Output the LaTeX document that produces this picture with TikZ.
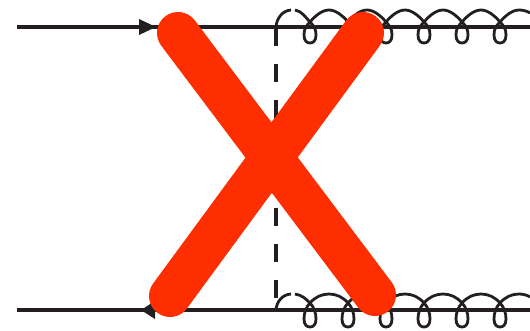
\documentclass[tikz,border=0pt]{standalone}
\definecolor{ink}{HTML}{231F20}
\definecolor{crossred}{HTML}{FF2E00}
\tikzset{
  fermion/.style={draw=ink,line width=3.3pt},
  tiphead/.style={fill=ink,draw=none},
  cutline/.style={draw=ink,line width=3.3pt,dash pattern=on 18pt off 18pt},
  gluon/.style={draw=ink,line width=2.8pt},
  crossbar/.style={draw=crossred,line width=42pt,line cap=round}
}
\newcommand{\gluonrow}[4]{% base y, peak y, crossing y, loop bottom y
  \draw[gluon] (276,#1) .. controls (276.5,{#1-8}) and (282,{#2+0.5}) .. (291,#2);
  \draw[gluon] (295,#2) .. controls (302,{#2+1}) and (306,{#3-4}) .. (310,#3)
    .. controls (314,{#3+4}) and (316,{#4-14}) .. (316,{#4-8})
    .. controls (316,{#4-2}) and (313,#4) .. (310,#4)
    .. controls (307,#4) and (304,{#4-2}) .. (304,{#4-8})
    .. controls (304,{#4-14}) and (306,{#3+4}) .. (310,#3);
  \foreach \c in {310,348,386,424,462}{
    \draw[gluon] (\c,#3) .. controls ({\c+5},{#3-6}) and ({\c+12},#2) .. ({\c+19},#2)
      .. controls ({\c+26},#2) and ({\c+33},{#3-6}) .. ({\c+38},#3)
      .. controls ({\c+42},{#3+4}) and ({\c+44},{#4-14}) .. ({\c+44},{#4-8})
      .. controls ({\c+44},{#4-2}) and ({\c+41},#4) .. ({\c+38},#4)
      .. controls ({\c+35},#4) and ({\c+32},{#4-2}) .. ({\c+32},{#4-8})
      .. controls ({\c+32},{#4-14}) and ({\c+34},{#3+4}) .. ({\c+38},#3);
  }
  \draw[gluon] (500,#3) .. controls (505,{#3-6}) and (512,#2) .. (519,#2)
      .. controls (523,#2) and (527,{#2+1}) .. (530,{#2+3});
}
\begin{document}
\begin{tikzpicture}[x=1pt,y=-1pt]
  \useasboundingbox (0,0) rectangle (530,330);
  \coordinate (topleft) at (17,27);
  \coordinate (topright) at (530,27);
  \coordinate (botleft) at (17,310);
  \coordinate (botright) at (530,310);
  \coordinate (cuttop) at (276,28);
  \coordinate (cutbot) at (276,310);
  \coordinate (xa) at (178,33);
  \coordinate (xb) at (375,295);
  \coordinate (xc) at (170,296);
  \coordinate (xd) at (363,33);
  \draw[fermion] (topleft) -- (topright);
  \draw[fermion] (botleft) -- (botright);
  \fill[tiphead] (139,19) -- (156,27) -- (139,35) -- cycle;
  \fill[tiphead] (155,301) -- (141,310) -- (155,319) -- cycle;
  \draw[cutline] (cuttop) -- (cutbot);
  \gluonrow{27}{10}{22}{43}
  \gluonrow{310}{294}{303}{327}
  \draw[crossbar] (xa) -- (xb);
  \draw[crossbar] (xc) -- (xd);
\end{tikzpicture}
\end{document}
